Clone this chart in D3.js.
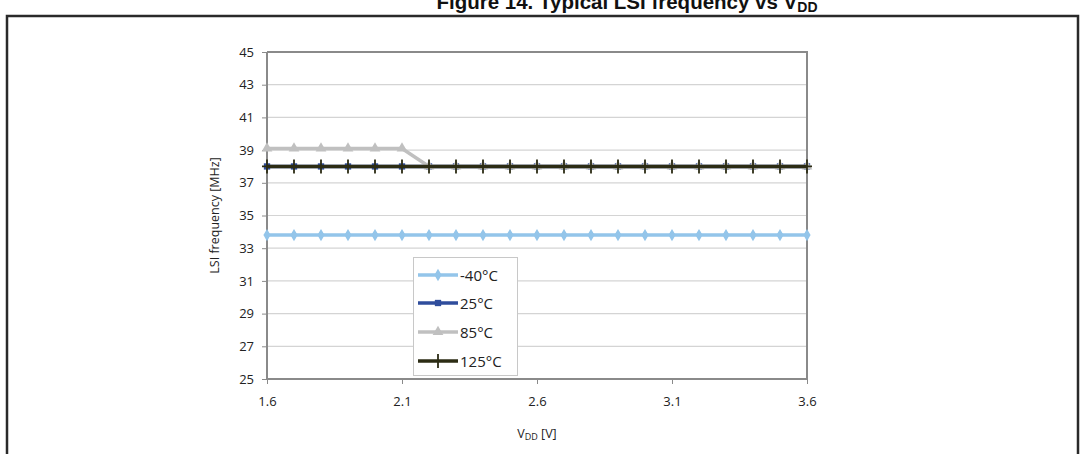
<!DOCTYPE html>
<html><head><meta charset="utf-8">
<script src="https://cdn.jsdelivr.net/npm/d3@7"></script>
<style>html,body{margin:0;padding:0;background:#fff;}svg{display:block;}</style>
</head><body>
<svg id="chart" width="1080" height="454"></svg>
<script>
const voltages = [1.6,1.7,1.8,1.9,2.0,2.1,2.2,2.3,2.4,2.5,2.6,2.7,2.8,2.9,3.0,3.1,3.2,3.3,3.4,3.5,3.6];
const seriesNames = ["-40°C","25°C","85°C","125°C"];
const valsM40 = [33.8,33.8,33.8,33.8,33.8,33.8,33.8,33.8,33.8,33.8,33.8,33.8,33.8,33.8,33.8,33.8,33.8,33.8,33.8,33.8,33.8];
const vals25  = [38.0,38.0,38.0,38.0,38.0,38.0,38.0,38.0,38.0,38.0,38.0,38.0,38.0,38.0,38.0,38.0,38.0,38.0,38.0,38.0,38.0];
const vals85  = [39.1,39.1,39.1,39.1,39.1,39.1,38.0,38.0,38.0,38.0,38.0,38.0,38.0,38.0,38.0,38.0,38.0,38.0,38.0,38.0,38.0];
const vals125 = [38.0,38.0,38.0,38.0,38.0,38.0,38.0,38.0,38.0,38.0,38.0,38.0,38.0,38.0,38.0,38.0,38.0,38.0,38.0,38.0,38.0];
const xTicks = [1.6,2.1,2.6,3.1,3.6];
const yTicks = [25,27,29,31,33,35,37,39,41,43,45];

const svg = d3.select("#chart");
const font = "'Open Sans', 'Liberation Sans', sans-serif";
const L = 267, R = 807, T = 52, B = 379;
const x = d3.scaleLinear().domain([1.6,3.6]).range([L,R]);
const y = d3.scaleLinear().domain([25,45]).range([B,T]);

// outer frame
svg.append("path").attr("d","M7,454 L7,16 L1078,16 L1078,454")
  .attr("fill","none").attr("stroke","#2a2a2a").attr("stroke-width",2.5);

// clipped title
const title = svg.append("text").attr("x",627).attr("y",9).attr("text-anchor","middle")
  .attr("font-family","'Liberation Sans', Arial, sans-serif").attr("font-weight","bold").attr("font-size",20.5).attr("fill","#111");
title.append("tspan").text("Figure 14. Typical LSI frequency vs V");
title.append("tspan").attr("font-size",14).attr("dy",3).text("DD");

// gridlines
svg.append("g").selectAll("line").data(yTicks).join("line")
  .attr("x1",L).attr("x2",R).attr("y1",d=>y(d)).attr("y2",d=>y(d))
  .attr("stroke","#d4d4d4").attr("stroke-width",1.2);

// plot border (top/right)
svg.append("path").attr("d",`M${L},${T} L${R},${T} L${R},${B}`).attr("fill","none").attr("stroke","#8a8a8a").attr("stroke-width",2);

// axes
const yAxis = d3.axisLeft(y).tickValues(yTicks).tickSize(5).tickPadding(8).tickFormat(d3.format("d"));
const gy = svg.append("g").attr("transform",`translate(${L},0)`).call(yAxis);
const xAxis = d3.axisBottom(x).tickValues(xTicks).tickSize(5).tickPadding(13).tickFormat(d3.format(".1f"));
const gx = svg.append("g").attr("transform",`translate(0,${B})`).call(xAxis);
[gx,gy].forEach(g=>{
  g.select(".domain").attr("stroke","#8a8a8a").attr("stroke-width",2);
  g.selectAll(".tick line").attr("stroke","#8a8a8a").attr("stroke-width",1);
  g.selectAll(".tick text").attr("font-family",font).attr("font-size",13).attr("fill","#222");
});
gy.select(".domain").attr("d",`M0,${B}H0V${T}`);
gx.select(".domain").attr("d",`M${L},0H${R}`);

// axis titles
svg.append("text").attr("transform",`translate(${L-48},${(T+B)/2}) rotate(-90)`).attr("text-anchor","middle")
  .attr("font-family",font).attr("font-size",12.5).attr("fill","#222").text("LSI frequency [MHz]");
const xt = svg.append("text").attr("x",(L+R)/2).attr("y",438).attr("text-anchor","middle")
  .attr("font-family",font).attr("font-size",12.5).attr("fill","#222");
xt.append("tspan").text("V");
xt.append("tspan").attr("font-size",9).attr("dy",2).text("DD");
xt.append("tspan").attr("dy",-2).text(" [V]");

const series = [
  {name:seriesNames[0], vals:valsM40, color:"#93c5ea", sym:d3.symbolDiamond, size:45},
  {name:seriesNames[1], vals:vals25, color:"#2f4d9c", sym:d3.symbolSquare, size:40},
  {name:seriesNames[2], vals:vals85, color:"#c0c0c0", sym:d3.symbolTriangle, size:50},
  {name:seriesNames[3], vals:vals125, color:"#2c2c14", sym:d3.symbolCross, size:0}
];
const line = d3.line().x((d,i)=>x(voltages[i])).y(d=>y(d));
function marker(g, s, cx, cy){
  if (s.sym === d3.symbolCross){
    g.append("path").attr("d",`M${cx-5},${cy}H${cx+5}M${cx},${cy-7}V${cy+7}`).attr("stroke",s.color).attr("stroke-width",1.8);
  } else {
    g.append("path").attr("transform",`translate(${cx},${cy})`).attr("d",d3.symbol(s.sym,s.size)()).attr("fill",s.color);
  }
}
series.forEach(s=>{
  const g = svg.append("g");
  g.append("path").datum(s.vals).attr("d",line).attr("fill","none").attr("stroke",s.color).attr("stroke-width",3.5);
  s.vals.forEach((v,i)=>marker(g,s,x(voltages[i]),y(v)));
});

// legend
const lg = svg.append("g");
lg.append("rect").attr("x",413.5).attr("y",257.5).attr("width",104).attr("height",118)
  .attr("fill","#fff").attr("stroke","#c8c8c8");
const ly = [275,303,332,361];
series.forEach((s,i)=>{
  lg.append("line").attr("x1",418).attr("x2",458).attr("y1",ly[i]).attr("y2",ly[i]).attr("stroke",s.color).attr("stroke-width",3.5);
  marker(lg,s,438,ly[i]);
  lg.append("text").attr("x",460).attr("y",ly[i]+5.5).attr("font-family",font).attr("font-size",15).attr("fill","#222").text(s.name);
});
</script>
</body></html>
